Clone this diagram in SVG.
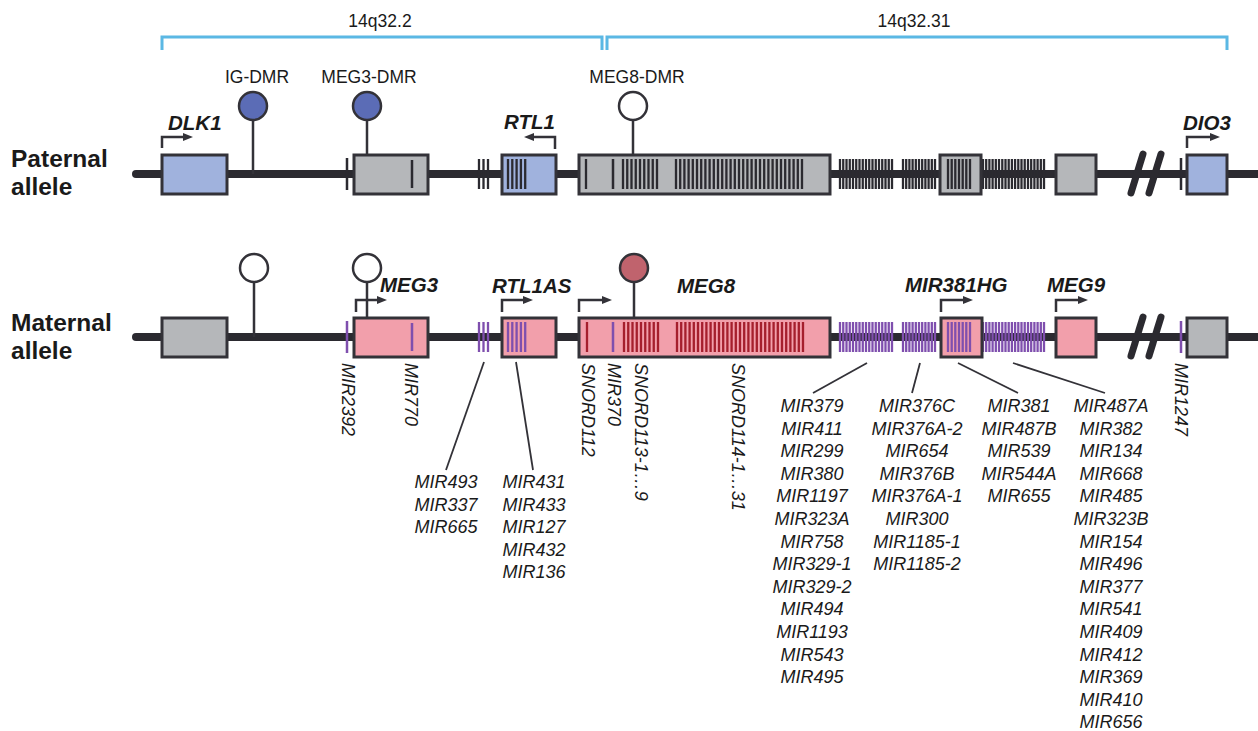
<svg xmlns="http://www.w3.org/2000/svg" xmlns:xlink="http://www.w3.org/1999/xlink" width="1258" height="731" viewBox="0 0 1258 731">
<style>
.chrom{stroke:#2b2a30;stroke-width:8;stroke-linecap:round;fill:none}
.box{stroke:#333238;stroke-width:3}
.blue{fill:#a0b2dd}.gray{fill:#b5b7ba}.pink{fill:#f29fab}
.stem{stroke:#333238;stroke-width:2.5;fill:none}
.dmr{stroke:#333238;stroke-width:2.5}
.arr{stroke:#333238;stroke-width:2.5;fill:none}
.brk{stroke:#2b2a30;stroke-width:7;stroke-linecap:round}
.brack{stroke:#5bb8e4;stroke-width:3;fill:none}
.lead{stroke:#333238;stroke-width:1.8;fill:none}
.t{font-family:"Liberation Sans",Arial,sans-serif;fill:#1a1a1a}
.reg{font-size:17.5px}
.allele{font-size:24.5px;font-weight:bold}
.gene{font-size:20.5px;font-weight:bold;font-style:italic}
.mir{font-size:18px;font-style:italic}
.dk{color:#2b2a30}.pu{color:#7f4fae}.rd{color:#a51f2d}
</style>
<defs>
<marker id="ah" markerWidth="10" markerHeight="10" refX="3" refY="5" orient="auto" markerUnits="userSpaceOnUse">
<path d="M0,1 L10,5 L0,9 Z" fill="#333238"/>
</marker>
<path id="tkLine" fill="none" stroke="currentColor" stroke-width="2.3" d="M479,-15V15M483.5,-15V15M488,-15V15M840,-15V15M843.25,-15V15M846.5,-15V15M849.75,-15V15M853,-15V15M856.25,-15V15M859.5,-15V15M862.75,-15V15M866,-15V15M869.25,-15V15M872.5,-15V15M875.75,-15V15M879,-15V15M882.25,-15V15M885.5,-15V15M888.75,-15V15M892,-15V15M903,-15V15M906.2,-15V15M909.4,-15V15M912.6,-15V15M915.8,-15V15M919,-15V15M922.2,-15V15M925.4,-15V15M928.6,-15V15M931.8,-15V15M935,-15V15M983,-15V15M986.2,-15V15M989.4,-15V15M992.6,-15V15M995.8,-15V15M999,-15V15M1002.3,-15V15M1005.5,-15V15M1008.7,-15V15M1011.9,-15V15M1015.1,-15V15M1018.3,-15V15M1021.5,-15V15M1024.7,-15V15M1028,-15V15M1031.2,-15V15M1034.4,-15V15M1037.6,-15V15M1040.8,-15V15M1044,-15V15"/>
<path id="tkSingle" fill="none" stroke="currentColor" stroke-width="2.5" d="M347,-16V16M1181,-16V16"/>
<path id="tkRTL" fill="none" stroke="currentColor" stroke-width="2.3" d="M508,-15V15M512.3,-15V15M516.6,-15V15M520.9,-15V15M525.2,-15V15"/>
<path id="tkM3" fill="none" stroke="currentColor" stroke-width="2.5" d="M412,-14V14"/>
<path id="tk370" fill="none" stroke="currentColor" stroke-width="2.5" d="M613,-15V15"/>
<path id="tkSn" fill="none" stroke="currentColor" stroke-width="2.3" d="M586,-15V15M623,-15V15M627.25,-15V15M631.5,-15V15M635.75,-15V15M640,-15V15M644.25,-15V15M648.5,-15V15M652.75,-15V15M657,-15V15M676,-15V15M680.2,-15V15M684.4,-15V15M688.6,-15V15M692.8,-15V15M697,-15V15M701.2,-15V15M705.4,-15V15M709.6,-15V15M713.8,-15V15M718,-15V15M722.2,-15V15M726.4,-15V15M730.6,-15V15M734.8,-15V15M739,-15V15M743.2,-15V15M747.4,-15V15M751.6,-15V15M755.8,-15V15M760,-15V15M764.2,-15V15M768.4,-15V15M772.6,-15V15M776.8,-15V15M781,-15V15M785.2,-15V15M789.4,-15V15M793.6,-15V15M797.8,-15V15M802,-15V15"/>
<path id="tkBox" fill="none" stroke="currentColor" stroke-width="2.3" d="M948,-15V15M951.7,-15V15M955.3,-15V15M959,-15V15M962.7,-15V15M966.3,-15V15M970,-15V15"/>
</defs>
<rect width="1258" height="731" fill="#ffffff"/>

<g id="bands">
<path class="brack" d="M162,50V37H602V50"/>
<path class="brack" d="M607,50V37H1227V50"/>
<text class="t reg" x="380" y="27" text-anchor="middle">14q32.2</text>
<text class="t reg" x="914" y="27" text-anchor="middle">14q32.31</text>
</g>

<g id="paternal">
<text class="t allele" x="11" y="167">Paternal</text>
<text class="t allele" x="11" y="195">allele</text>
<path class="chrom" d="M136,174H1262"/>
<use xlink:href="#tkLine" class="dk" transform="translate(0,174)"/>
<use xlink:href="#tkSingle" class="dk" transform="translate(0,174)"/>
<line class="brk" x1="1131" y1="193" x2="1143" y2="154"/>
<line class="brk" x1="1149" y1="193" x2="1161" y2="154"/>
</g>

<g id="p-DLK1">
<rect class="box blue" x="162" y="155" width="65" height="39"/>
<path class="arr" d="M162,148V137H186" marker-end="url(#ah)"/>
<text class="t gene" x="168" y="130">DLK1</text>
</g>
<g id="p-IG-DMR">
<path class="stem" d="M253,120V174"/>
<circle class="dmr" cx="253" cy="106" r="14" fill="#5b6cb6"/>
<text class="t reg" x="257" y="83" text-anchor="middle">IG-DMR</text>
</g>
<g id="p-MEG3">
<path class="stem" d="M367,120V155"/>
<circle class="dmr" cx="367" cy="106" r="14" fill="#5b6cb6"/>
<text class="t reg" x="369" y="83" text-anchor="middle">MEG3-DMR</text>
<rect class="box gray" x="354" y="155" width="74" height="39"/>
<use xlink:href="#tkM3" class="dk" transform="translate(0,174)"/>
</g>
<g id="p-RTL1">
<rect class="box blue" x="502" y="155" width="54" height="39"/>
<use xlink:href="#tkRTL" class="dk" transform="translate(0,174)"/>
<path class="arr" d="M555,149V137H531" marker-end="url(#ah)"/>
<text class="t gene" x="504" y="129">RTL1</text>
</g>
<g id="p-MEG8">
<path class="stem" d="M633,120V155"/>
<circle class="dmr" cx="633" cy="106" r="14" fill="#ffffff"/>
<text class="t reg" x="637" y="83" text-anchor="middle">MEG8-DMR</text>
<rect class="box gray" x="579" y="155" width="251" height="39"/>
<use xlink:href="#tkSn" class="dk" transform="translate(0,174)"/>
<use xlink:href="#tk370" class="dk" transform="translate(0,174)"/>
</g>
<g id="p-MIR381HG">
<rect class="box gray" x="940" y="155" width="41" height="39"/>
<use xlink:href="#tkBox" class="dk" transform="translate(0,174)"/>
</g>
<g id="p-MEG9">
<rect class="box gray" x="1056" y="155" width="40" height="39"/>
</g>
<g id="p-DIO3">
<rect class="box blue" x="1187" y="155" width="40" height="39"/>
<path class="arr" d="M1187,148V137H1213" marker-end="url(#ah)"/>
<text class="t gene" x="1183" y="130">DIO3</text>
</g>

<g id="maternal">
<text class="t allele" x="11" y="331">Maternal</text>
<text class="t allele" x="11" y="359">allele</text>
<path class="chrom" d="M136,337H1262"/>
<use xlink:href="#tkLine" class="pu" transform="translate(0,337)"/>
<use xlink:href="#tkSingle" class="pu" transform="translate(0,337)"/>
<line class="brk" x1="1131" y1="356" x2="1143" y2="317"/>
<line class="brk" x1="1149" y1="356" x2="1161" y2="317"/>
</g>

<g id="m-DLK1">
<rect class="box gray" x="162" y="318" width="65" height="39"/>
</g>
<g id="m-IG-DMR">
<path class="stem" d="M254,282V337"/>
<circle class="dmr" cx="254" cy="268" r="14" fill="#ffffff"/>
</g>
<g id="m-MEG3">
<path class="stem" d="M367,282V318"/>
<circle class="dmr" cx="367" cy="268" r="14" fill="#ffffff"/>
<rect class="box pink" x="354" y="318" width="74" height="39"/>
<use xlink:href="#tkM3" class="pu" transform="translate(0,337)"/>
<path class="arr" d="M356,312V300H380" marker-end="url(#ah)"/>
<text class="t gene" x="380" y="292">MEG3</text>
</g>
<g id="m-RTL1AS">
<rect class="box pink" x="502" y="318" width="54" height="39"/>
<use xlink:href="#tkRTL" class="pu" transform="translate(0,337)"/>
<path class="arr" d="M502,312V300H526" marker-end="url(#ah)"/>
<text class="t gene" x="492" y="293">RTL1AS</text>
</g>
<g id="m-MEG8">
<path class="stem" d="M634,282V318"/>
<circle class="dmr" cx="634" cy="268" r="14" fill="#c0636d"/>
<rect class="box pink" x="579" y="318" width="251" height="39"/>
<use xlink:href="#tkSn" class="rd" transform="translate(1,337)"/>
<use xlink:href="#tk370" class="pu" transform="translate(0,337)"/>
<path class="arr" d="M579,312V300H605" marker-end="url(#ah)"/>
<text class="t gene" x="677" y="293">MEG8</text>
</g>
<g id="m-MIR381HG">
<rect class="box pink" x="941" y="318" width="41" height="39"/>
<use xlink:href="#tkBox" class="pu" transform="translate(0,337)"/>
<path class="arr" d="M941,312V300H966" marker-end="url(#ah)"/>
<text class="t gene" x="905" y="292">MIR381HG</text>
</g>
<g id="m-MEG9">
<rect class="box pink" x="1056" y="318" width="40" height="39"/>
<path class="arr" d="M1056,312V300H1081" marker-end="url(#ah)"/>
<text class="t gene" x="1047" y="292">MEG9</text>
</g>
<g id="m-DIO3">
<rect class="box gray" x="1187" y="318" width="40" height="39"/>
</g>

<g id="connectors">
<line class="lead" x1="484" y1="362" x2="446" y2="470"/>
<line class="lead" x1="516" y1="362" x2="533" y2="470"/>
<line class="lead" x1="867" y1="363" x2="813" y2="393"/>
<line class="lead" x1="920" y1="363" x2="912" y2="393"/>
<line class="lead" x1="958" y1="363" x2="1018" y2="393"/>
<line class="lead" x1="1013" y1="363" x2="1105" y2="393"/>
</g>

<g id="rotated-labels" class="t mir">
<text transform="translate(342,363) rotate(90)">MIR2392</text>
<text transform="translate(405,363) rotate(90)">MIR770</text>
<text transform="translate(582,363) rotate(90)">SNORD112</text>
<text transform="translate(608,363) rotate(90)">MIR370</text>
<text transform="translate(635,363) rotate(90)">SNORD113-1…9</text>
<text transform="translate(732,363) rotate(90)">SNORD114-1…31</text>
<text transform="translate(1175,363) rotate(90)">MIR1247</text>
</g>

<g id="list-MIR493" class="t mir" text-anchor="middle">
<text x="446" y="488">MIR493</text>
<text x="446" y="510.6">MIR337</text>
<text x="446" y="533.2">MIR665</text>
</g>
<g id="list-MIR431" class="t mir" text-anchor="middle">
<text x="534" y="488">MIR431</text>
<text x="534" y="510.6">MIR433</text>
<text x="534" y="533.2">MIR127</text>
<text x="534" y="555.8">MIR432</text>
<text x="534" y="578.4">MIR136</text>
</g>
<g id="list-MIR379" class="t mir" text-anchor="middle">
<text x="812" y="412">MIR379</text>
<text x="812" y="434.6">MIR411</text>
<text x="812" y="457.2">MIR299</text>
<text x="812" y="479.8">MIR380</text>
<text x="812" y="502.4">MIR1197</text>
<text x="812" y="525">MIR323A</text>
<text x="812" y="547.6">MIR758</text>
<text x="812" y="570.2">MIR329-1</text>
<text x="812" y="592.8">MIR329-2</text>
<text x="812" y="615.4">MIR494</text>
<text x="812" y="638">MIR1193</text>
<text x="812" y="660.6">MIR543</text>
<text x="812" y="683.2">MIR495</text>
</g>
<g id="list-MIR376C" class="t mir" text-anchor="middle">
<text x="917" y="412">MIR376C</text>
<text x="917" y="434.6">MIR376A-2</text>
<text x="917" y="457.2">MIR654</text>
<text x="917" y="479.8">MIR376B</text>
<text x="917" y="502.4">MIR376A-1</text>
<text x="917" y="525">MIR300</text>
<text x="917" y="547.6">MIR1185-1</text>
<text x="917" y="570.2">MIR1185-2</text>
</g>
<g id="list-MIR381" class="t mir" text-anchor="middle">
<text x="1019" y="412">MIR381</text>
<text x="1019" y="434.6">MIR487B</text>
<text x="1019" y="457.2">MIR539</text>
<text x="1019" y="479.8">MIR544A</text>
<text x="1019" y="502.4">MIR655</text>
</g>
<g id="list-MIR487A" class="t mir" text-anchor="middle">
<text x="1111" y="412">MIR487A</text>
<text x="1111" y="434.6">MIR382</text>
<text x="1111" y="457.2">MIR134</text>
<text x="1111" y="479.8">MIR668</text>
<text x="1111" y="502.4">MIR485</text>
<text x="1111" y="525">MIR323B</text>
<text x="1111" y="547.6">MIR154</text>
<text x="1111" y="570.2">MIR496</text>
<text x="1111" y="592.8">MIR377</text>
<text x="1111" y="615.4">MIR541</text>
<text x="1111" y="638">MIR409</text>
<text x="1111" y="660.6">MIR412</text>
<text x="1111" y="683.2">MIR369</text>
<text x="1111" y="705.8">MIR410</text>
<text x="1111" y="728.4">MIR656</text>
</g>
</svg>
